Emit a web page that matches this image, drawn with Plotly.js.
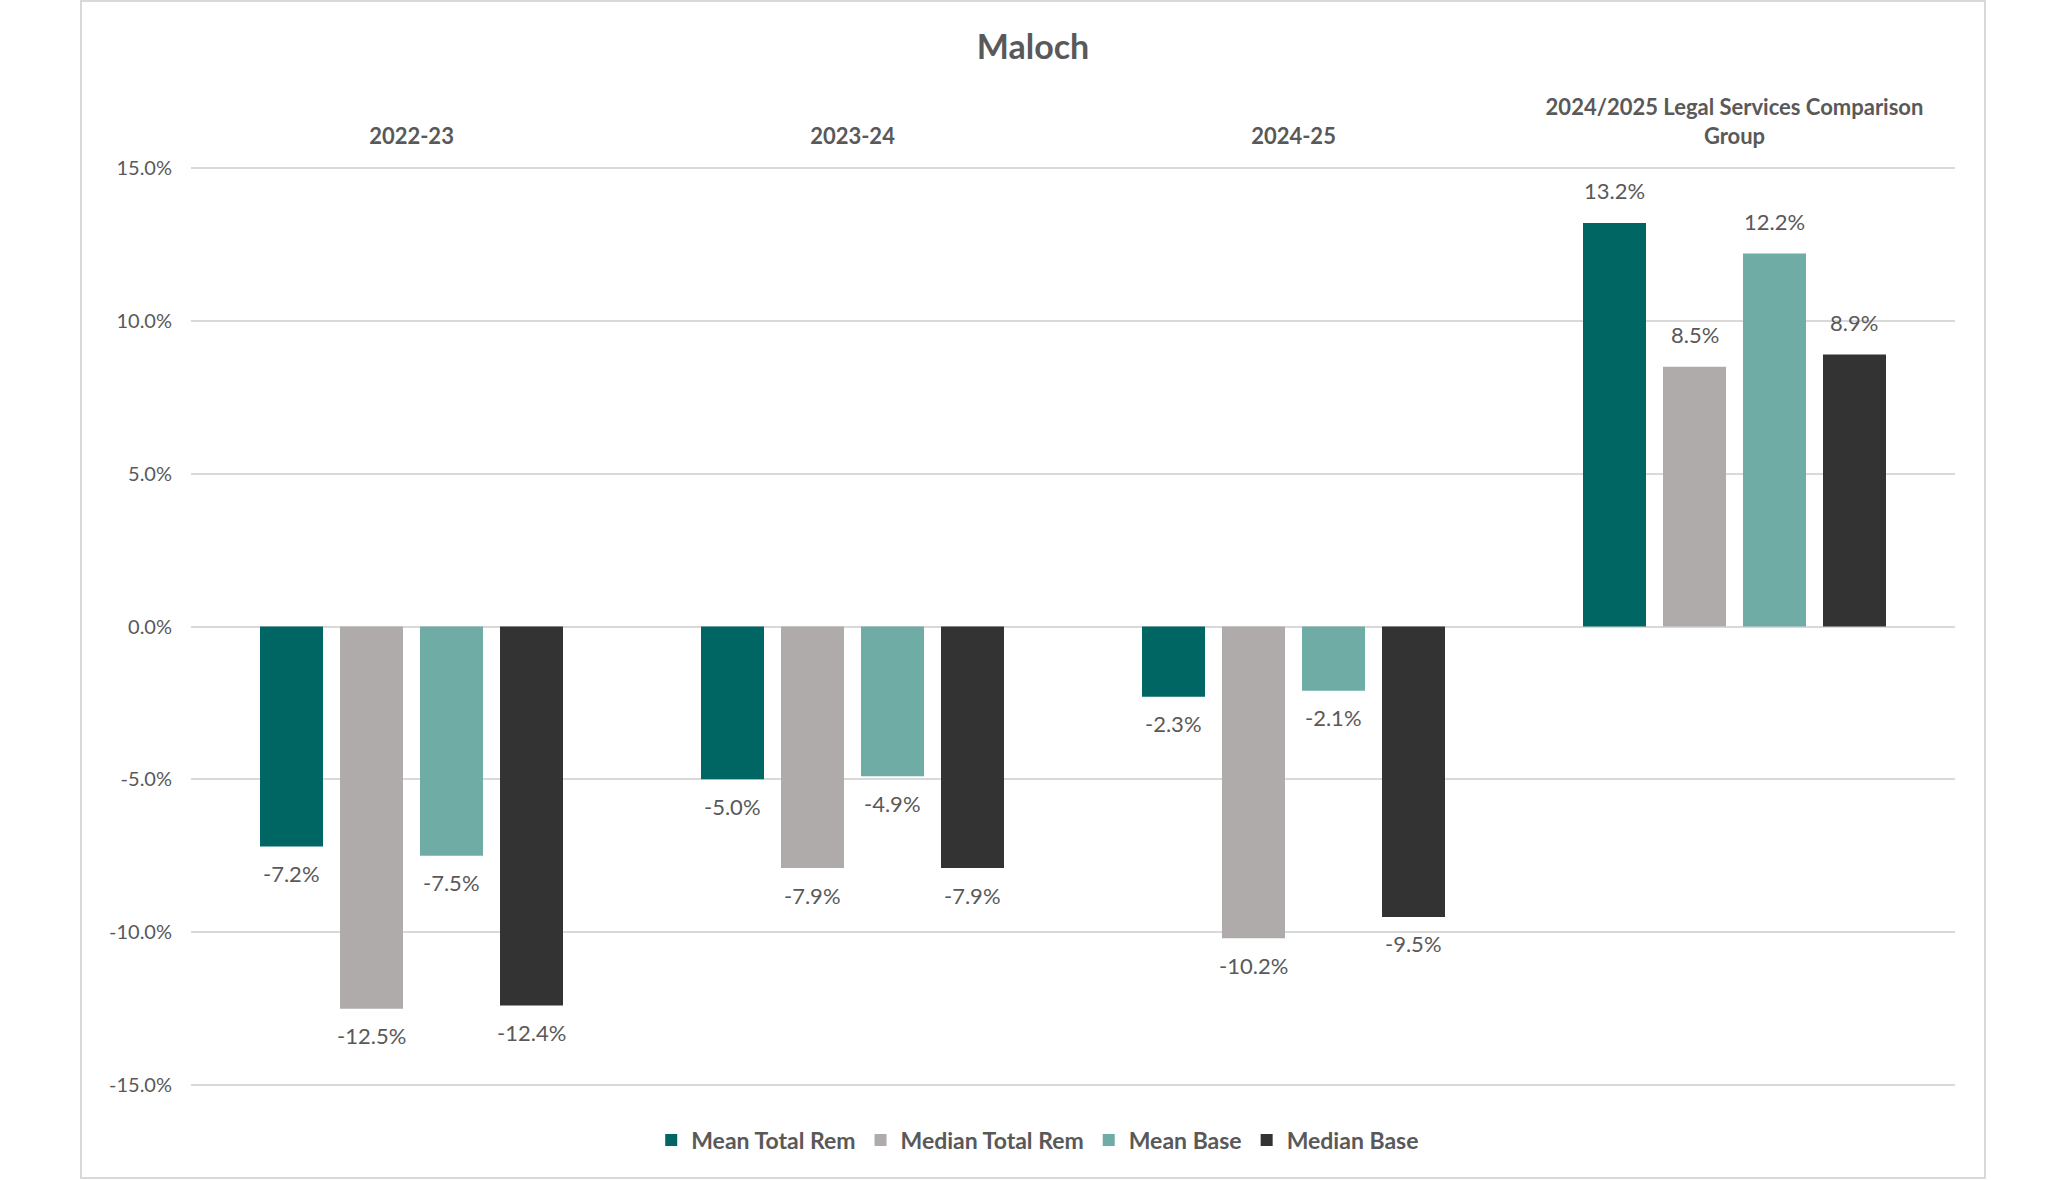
<!DOCTYPE html>
<html>
<head>
<meta charset="utf-8">
<script src="https://cdn.plot.ly/plotly-3.0.1.min.js"></script>
<style>
  html, body { margin: 0; padding: 0; background: #fff; }
  #chart { width: 2048px; height: 1180px; }
</style>
</head>
<body>
<div id="chart"></div>
<script>
// categories along the (top) axis
var periods = ["2022-23", "2023-24", "2024-25", "2024/2025 Legal Services Comparison<br>Group"];

// series values, % change
var meanTotalRem   = [-7.2, -5.0, -2.3, 13.2];
var medianTotalRem = [-12.5, -7.9, -10.2, 8.5];
var meanBase       = [-7.5, -4.9, -2.1, 12.2];
var medianBase     = [-12.4, -7.9, -9.5, 8.9];

var seriesNames  = ["Mean Total Rem", "Median Total Rem", "Mean Base", "Median Base"];
var seriesValues = [meanTotalRem, medianTotalRem, meanBase, medianBase];
var seriesColors = ["#006663", "#AFABAB", "#6FACA6", "#333333"];

var yTicks = [-15, -10, -5, 0, 5, 10, 15];

var W = 2048, H = 1180;
var M = {l: 191, r: 93, t: 167, b: 94};
var plotW = W - M.l - M.r, plotH = H - M.t - M.b;
var bargap = 0.2744, groupgap = 0.2125;
var slot = plotW / periods.length * (1 - bargap) / seriesNames.length;

var txt = "#595959", grid = "#D9D9D9";
var font = "Lato, 'Open Sans', sans-serif";

var traces = seriesNames.map(function (name, i) {
  return {
    type: "bar",
    name: name,
    x: periods,
    y: seriesValues[i],
    marker: {color: seriesColors[i]},
    hoverinfo: "name+y"
  };
});

// value labels sit a little off the bar ends, like Excel's
var notes = [];
seriesValues.forEach(function (vals, i) {
  vals.forEach(function (v, j) {
    notes.push({
      x: periods[j], y: v, xref: "x", yref: "y",
      text: v.toFixed(1) + "%",
      showarrow: false,
      xshift: (i - (seriesNames.length - 1) / 2) * slot,
      yshift: v >= 0 ? 32 : -27,
      font: {family: font, size: 22, color: txt}
    });
  });
});

// plotly drops the gridlines sitting on the range ends, so draw those two
var shapes = [yTicks[0], yTicks[yTicks.length - 1]].map(function (t) {
  return {
    type: "line", xref: "paper", yref: "y", layer: "below",
    x0: 0, x1: 1, y0: t, y1: t,
    line: {color: grid, width: 2}
  };
});
// chart border
shapes.push({
  type: "rect", xref: "paper", yref: "paper", layer: "below",
  x0: (81 - M.l) / plotW, x1: (1985 - M.l) / plotW,
  y0: (H - M.b - 1178) / plotH, y1: (H - M.b - 1) / plotH,
  line: {color: grid, width: 2}, fillcolor: "rgba(0,0,0,0)"
});

var layout = {
  width: W, height: H,
  margin: M,
  paper_bgcolor: "#fff", plot_bgcolor: "#fff",
  font: {family: font, color: txt},
  title: {
    text: "<b>Maloch</b>",
    font: {family: font, size: 34, color: txt},
    xref: "container", x: 0.5044,
    yref: "container", y: 1 - 47 / H, yanchor: "middle"
  },
  barmode: "group",
  bargap: bargap,
  bargroupgap: groupgap,
  showlegend: true,
  legend: {
    orientation: "h",
    x: 0.48, xanchor: "center",
    y: -54 / plotH, yanchor: "middle",
    font: {family: font, size: 23, color: txt, weight: "bold"},
    traceorder: "normal"
  },
  xaxis: {
    type: "category",
    side: "top",
    showline: false, showgrid: false, zeroline: false,
    ticks: "",
    ticklabelstandoff: 18,
    tickfont: {family: font, size: 22, color: txt, weight: "bold"}
  },
  yaxis: {
    range: [-15.03, 15.03],
    tickvals: yTicks,
    ticktext: yTicks.map(function (t) { return t.toFixed(1) + "%"; }),
    showgrid: true, gridcolor: grid, gridwidth: 2,
    zeroline: true, zerolinecolor: grid, zerolinewidth: 2,
    showline: false, ticks: "",
    ticklabelstandoff: 18,
    tickfont: {family: font, size: 20, color: txt}
  },
  annotations: notes,
  shapes: shapes
};

Plotly.newPlot("chart", traces, layout, {displayModeBar: false});
</script>
</body>
</html>
